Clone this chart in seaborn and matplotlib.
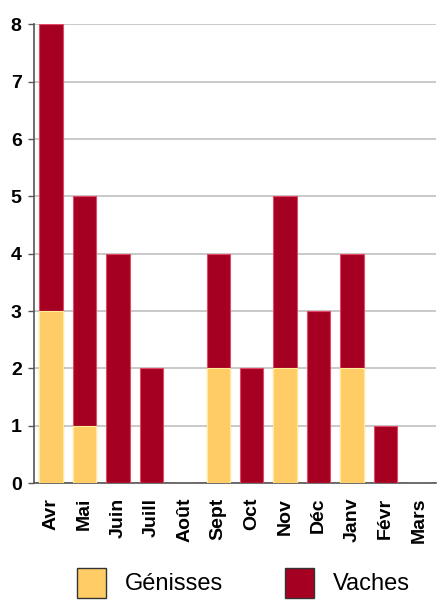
import matplotlib
matplotlib.use("Agg")
import matplotlib.pyplot as plt
import matplotlib.patches as mpatches
import pandas as pd
import seaborn as sns

months = ["Avr", "Mai", "Juin", "Juill", "Août", "Sept", "Oct", "Nov", "Déc", "Janv", "Févr", "Mars"]
genisses = [3, 1, 0, 0, 0, 2, 0, 2, 0, 2, 0, 0]
vaches = [5, 4, 4, 2, 0, 2, 2, 3, 3, 2, 1, 0]

YELLOW = "#FFCC66"
RED = "#A50021"

df = pd.DataFrame({"mois": months, "Génisses": genisses, "Vaches": vaches})
df["total"] = df["Génisses"] + df["Vaches"]

sns.set_style("white")
plt.rcParams["font.family"] = ["Liberation Sans", "DejaVu Sans"]
plt.rcParams["text.color"] = "black"

fig = plt.figure(figsize=(4.38, 6.07), dpi=100)
ax = fig.add_axes([0.078, 0.204, 0.917, 0.756])

sns.barplot(data=df, x="mois", y="total", color=RED, width=0.7,
            edgecolor="#E04A66", linewidth=0.8, saturation=1, ax=ax, zorder=3)
sns.barplot(data=df, x="mois", y="Génisses", color=YELLOW, width=0.7,
            edgecolor="#FFEE99", linewidth=0.8, saturation=1, ax=ax, zorder=4)

ax.set_ylim(0, 8)
ax.set_xlim(-0.5, 11.5)
ax.set_yticks(range(0, 9))
ax.yaxis.grid(True, color="#C0C0C0", linewidth=1.2, zorder=0)
ax.set_axisbelow(True)
ax.set_xlabel("")
ax.set_ylabel("")

for side in ["top", "right"]:
    ax.spines[side].set_visible(False)
for side in ["left", "bottom"]:
    ax.spines[side].set_color("#555555")
    ax.spines[side].set_linewidth(1.2)

ax.tick_params(axis="y", left=True, length=4, width=1, color="#555555",
               labelcolor="black", labelsize=14, pad=5)
ax.tick_params(axis="x", bottom=False, labelcolor="black", labelsize=14, pad=7)
for lab in ax.get_yticklabels():
    lab.set_fontweight("bold")
for lab in ax.get_xticklabels():
    lab.set_fontweight("bold")
    lab.set_rotation(90)

handles = [
    mpatches.Patch(facecolor=YELLOW, edgecolor="#333333", label="Génisses"),
    mpatches.Patch(facecolor=RED, edgecolor="#333333", label="Vaches"),
]
fig.legend(handles=handles, loc="center", bbox_to_anchor=(0.556, 0.04), ncol=2,
           frameon=False, fontsize=17, handlelength=1.25, handleheight=1.55,
           columnspacing=2.6, handletextpad=0.8, borderpad=0, labelcolor="black")

fig.savefig("out.png", dpi=100)
